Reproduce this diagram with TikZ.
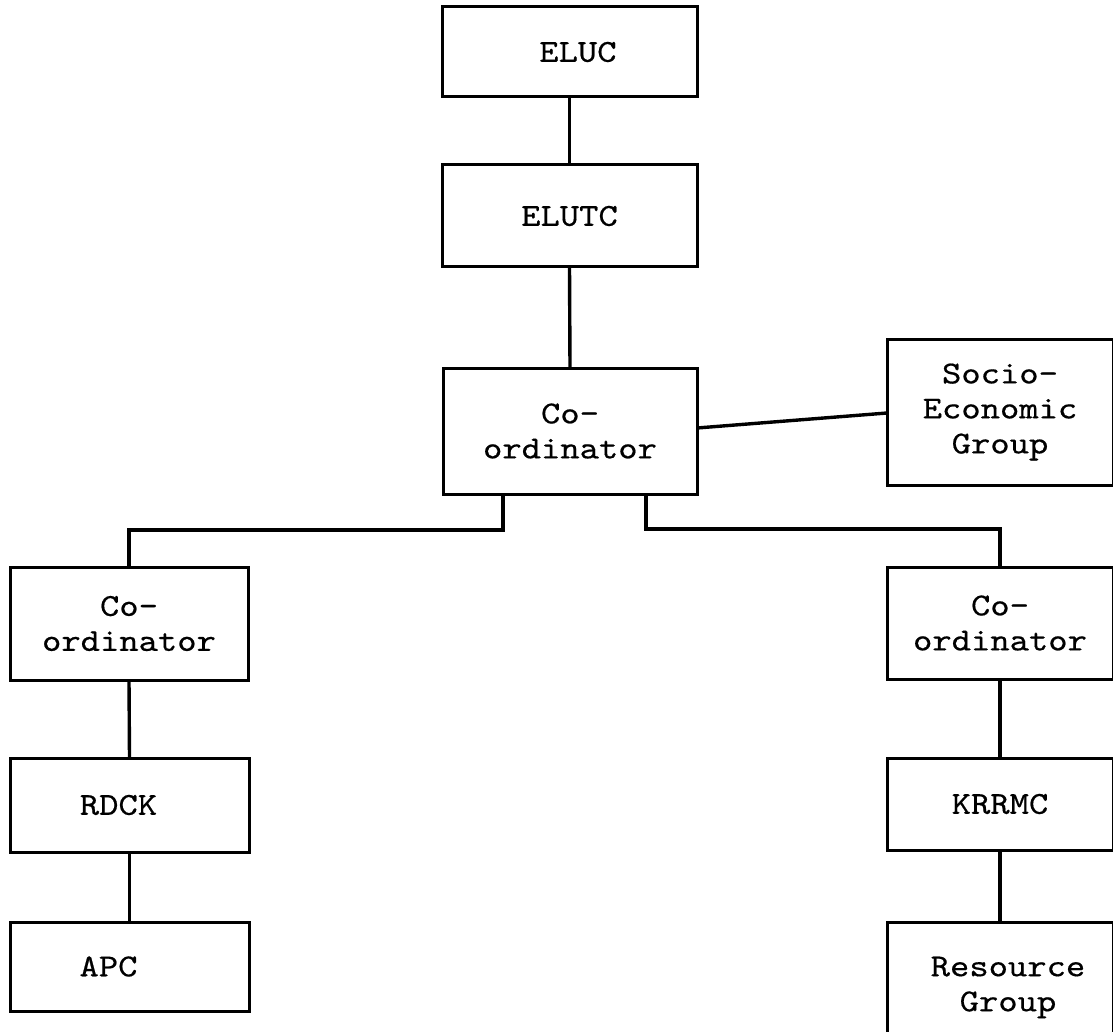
\documentclass[tikz,border=0pt]{standalone}
\usepackage{fontspec}
\setmonofont{lmmono10-regular}[Extension=.otf, FakeStretch=1.15, FakeBold=0.5]
\begin{document}
\begin{tikzpicture}[x=0.5pt, y=-0.5pt,
  box/.style={draw, line width=1.5pt, rectangle, inner sep=0pt, outer sep=0pt,
              align=center, font=\ttfamily\fontsize{16}{17.5}\selectfont},
  txt/.style={align=center, inner sep=0pt, font=\ttfamily\fontsize{16}{17.5}\selectfont},
  link/.style={line width=1.7pt}]
  \useasboundingbox (0,0) rectangle (1113,1032);

  % top chain
  \node[box, minimum width=127.5pt, minimum height=45pt,
        label={[txt, xshift=4.2pt]center:ELUC}] (eluc) at (569.5,52) {};
  \node[box, minimum width=127.5pt, minimum height=51pt] (elutc) at (569.5,216) {ELUTC};
  \node[box, minimum width=127pt, minimum height=63pt] (co) at (570,431) {Co-\\ordinator};
  \node[box, minimum width=113pt, minimum height=73pt] (soc) at (1000,412) {Socio-\\Economic\\Group};

  % left branch
  \node[box, minimum width=119pt, minimum height=56.5pt] (lc) at (129,623.5) {Co-\\ordinator};
  \node[box, minimum width=119.5pt, minimum height=47pt,
        label={[txt, xshift=-5.5pt]center:RDCK}] (rdck) at (129.5,805) {};
  \node[box, minimum width=119.5pt, minimum height=44.5pt,
        label={[txt, xshift=-10.5pt]center:APC}] (apc) at (129.5,966.5) {};

  % right branch
  \node[box, minimum width=113pt, minimum height=56pt] (rc) at (1000,623) {Co-\\ordinator};
  \node[box, minimum width=113pt, minimum height=46pt] (krrmc) at (1000,804) {KRRMC};
  \node[box, minimum width=113pt, minimum height=61.5pt,
        label={[txt, xshift=4pt, yshift=-2pt]center:Resource\\Group}] (res) at (1000,983.5) {};

  % connectors
  \draw[link] (eluc.south) -- (elutc.north);
  \draw[link] (elutc.south) -- (co.north);
  \draw[link] ([yshift=1.5pt]co.east) -- ([yshift=-0.5pt]soc.west);
  \draw[link] ([xshift=-33.5pt]co.south) -- ++(0,36) -| (lc.north);
  \draw[link] ([xshift=38pt]co.south) -- ++(0,35) -| (rc.north);
  \draw[link] (lc.south) -- (rdck.north);
  \draw[link] (rdck.south) -- (apc.north);
  \draw[link] (rc.south) -- (krrmc.north);
  \draw[link] (krrmc.south) -- (res.north);
\end{tikzpicture}
\end{document}
